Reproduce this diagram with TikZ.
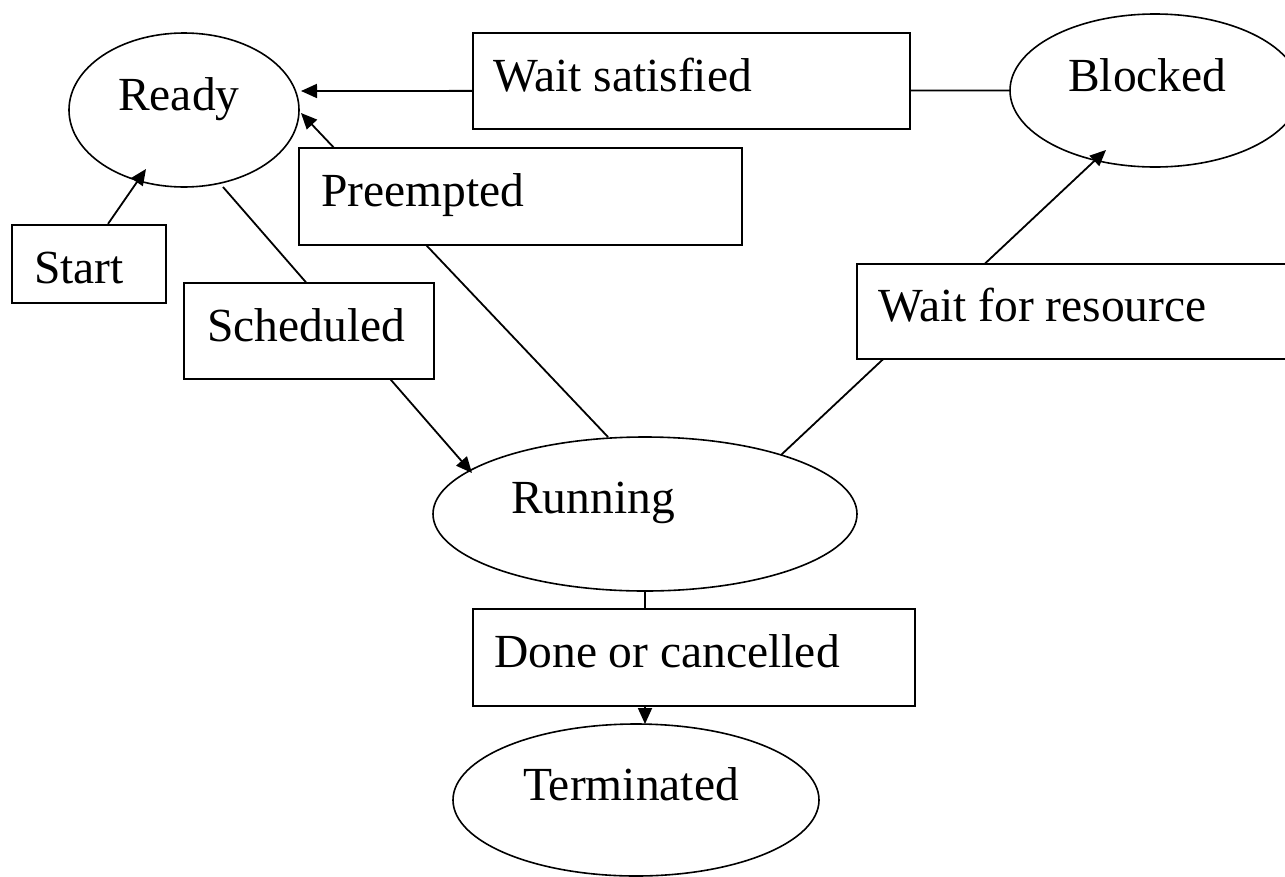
\documentclass[tikz,border=0pt]{standalone}
\usepackage{fontspec}
\setmainfont{Liberation Serif}
\usetikzlibrary{arrows.meta,shapes.geometric,calc}
\pgfdeclarelayer{background}
\pgfsetlayers{background,main}
\begin{document}
\begin{tikzpicture}[x=1pt,y=-1pt,
  every node/.style={font=\fontsize{47.5}{57}\selectfont},
  state/.style={ellipse, draw, line width=1.6pt, inner sep=0pt},
  lbox/.style={rectangle, draw, fill=white, line width=2.2pt, inner sep=0pt},
  txt/.style={anchor=base west, inner sep=0pt},
  conn/.style={line width=1.8pt},
  arr/.style={conn, -{Triangle[length=16pt,width=14pt]}}]
\useasboundingbox (0,0) rectangle (1285,876);
\clip (0,0) rectangle (1285,876);

% states
\node[state, minimum width=230pt, minimum height=154pt] (ready) at (184,110) {};
\node[txt] (readyT) at (118,110) {Ready};
\node[state, minimum width=290pt, minimum height=153pt] (blocked) at (1155,90.5) {};
\node[txt] (blockedT) at (1068,91) {Blocked};
\node[state, minimum width=424pt, minimum height=154pt] (running) at (645,514) {};
\node[txt] (runningT) at (511,513) {Running};
\node[state, minimum width=366pt, minimum height=152pt] (term) at (636,800) {};
\node[txt] (termT) at (523,800) {Terminated};

% label boxes
\node[lbox, minimum width=154pt, minimum height=78pt] (start) at (89,264) {};
\node[txt] (startT) at (34,283) {Start};
\node[lbox, minimum width=250pt, minimum height=96pt] (sched) at (309,331) {};
\node[txt] (schedT) at (207,341) {Scheduled};
\node[lbox, minimum width=443pt, minimum height=97pt] (preempt) at (520.5,196.5) {};
\node[txt] (preemptT) at (321,206) {Preempted};
\node[lbox, minimum width=437pt, minimum height=96pt] (waitsat) at (691.5,81) {};
\node[txt] (waitsatT) at (493,91) {Wait satisfied};
\node[lbox, minimum width=443pt, minimum height=95pt] (waitres) at (1078.5,311.5) {};
\node[txt] (waitresT) at (878,321) {Wait for resource};
\node[lbox, minimum width=442pt, minimum height=97pt] (done) at (694,657.5) {};
\node[txt] (doneT) at (494,667) {Done or cancelled};

% connectors (behind the label boxes)
\begin{pgfonlayer}{background}
\draw[arr] ($(start.north)+(19,0)$) -- ($(ready)+(-38,59)$);
\draw[arr] ($(ready)+(39,77)$) -- ($(running)+(-173,-41)$);
\draw[arr] ($(running)+(-37,-77)$) -- ($(ready)+(117,3)$);
\draw[arr] (blocked.west) -- ($(ready)+(117,-19)$);
\draw[arr] ($(running)+(136,-59)$) -- ($(blocked)+(-49,59.5)$);
\draw[arr] (running.south) -- ($(term)+(9,-76)$);
\end{pgfonlayer}
\end{tikzpicture}
\end{document}
